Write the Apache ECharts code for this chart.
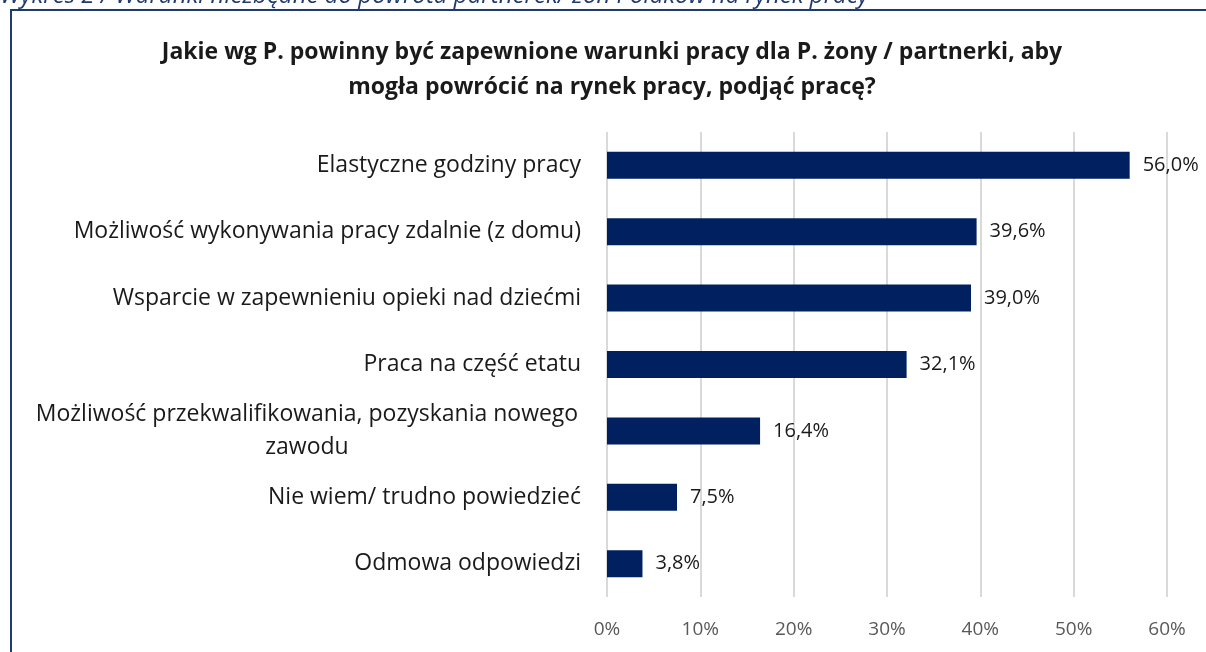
<!DOCTYPE html>
<html>
<head>
<meta charset="utf-8">
<script src="https://cdn.jsdelivr.net/npm/echarts@6/dist/echarts.min.js"></script>
<style>
  html, body { margin: 0; padding: 0; background: #fff; }
  #chart { width: 1206px; height: 652px; }
</style>
</head>
<body>
<div id="chart"></div>
<script>
// dane z wykresu
var categories = [
  'Elastyczne godziny pracy',
  'Możliwość wykonywania pracy zdalnie (z domu)',
  'Wsparcie w zapewnieniu opieki nad dziećmi',
  'Praca na część etatu',
  'Możliwość przekwalifikowania, pozyskania nowego\nzawodu',
  'Nie wiem/ trudno powiedzieć',
  'Odmowa odpowiedzi'
]
var values = [56.0, 39.6, 39.0, 32.1, 16.4, 7.5, 3.8]
var axisTicks = [0, 10, 20, 30, 40, 50, 60]

var font = '"Open Sans", sans-serif'
var chart = echarts.init(document.getElementById('chart'))

chart.setOption({
  backgroundColor: '#fff',
  animation: false,
  graphic: [
    {
      type: 'text',
      left: 0,
      top: -16,
      style: {
        text: 'Wykres 2 / Warunki niezbędne do powrotu partnerek/ żon Polaków na rynek pracy',
        font: 'italic 24px ' + font,
        fill: '#1f3a6e'
      }
    },
    {
      type: 'rect',
      shape: { x: 11, y: 10, width: 1400, height: 900 },
      style: { fill: 'none', stroke: '#1f3a6e', lineWidth: 2 },
      z: 10
    },
    {
      type: 'text',
      x: 612,
      y: 35,
      style: {
        text: 'Jakie wg P. powinny być zapewnione warunki pracy dla P. żony / partnerki, aby\nmogła powrócić na rynek pracy, podjąć pracę?',
        font: 'bold 23px ' + font,
        fill: '#1a1a1a',
        align: 'center',
        lineHeight: 35
      }
    }
  ],
  grid: {
    left: 607,
    right: 39,
    top: 132,
    bottom: 55
  },
  xAxis: {
    type: 'value',
    min: axisTicks[0],
    max: axisTicks[axisTicks.length - 1],
    interval: 10,
    axisLine: { show: false },
    axisTick: { show: false },
    splitLine: { lineStyle: { color: '#d9d9d9', width: 2 } },
    axisLabel: {
      margin: 23,
      fontSize: 19,
      fontFamily: font,
      color: '#595959',
      formatter: function (v) { return v + '%' }
    }
  },
  yAxis: {
    type: 'category',
    data: categories,
    inverse: true,
    axisLine: { show: false },
    axisTick: { show: false },
    axisLabel: {
      margin: 26,
      fontSize: 23,
      fontFamily: font,
      color: '#1a1a1a',
      lineHeight: 33,
      formatter: function (v) {
        if (v.indexOf('\n') < 0) return v
        return v.split('\n').map(function (s) { return '{c|' + s + '}' }).join('\n')
      },
      rich: {
        c: { width: 548, align: 'center', fontSize: 23, fontFamily: font, color: '#1a1a1a', lineHeight: 33 }
      }
    }
  },
  series: [{
    type: 'bar',
    data: values,
    barWidth: 27,
    itemStyle: { color: '#002060' },
    label: {
      show: true,
      position: 'right',
      distance: 13,
      fontSize: 20,
      fontFamily: font,
      color: '#1a1a1a',
      formatter: function (p) { return p.value.toFixed(1).replace('.', ',') + '%' }
    }
  }]
})
</script>
</body>
</html>
